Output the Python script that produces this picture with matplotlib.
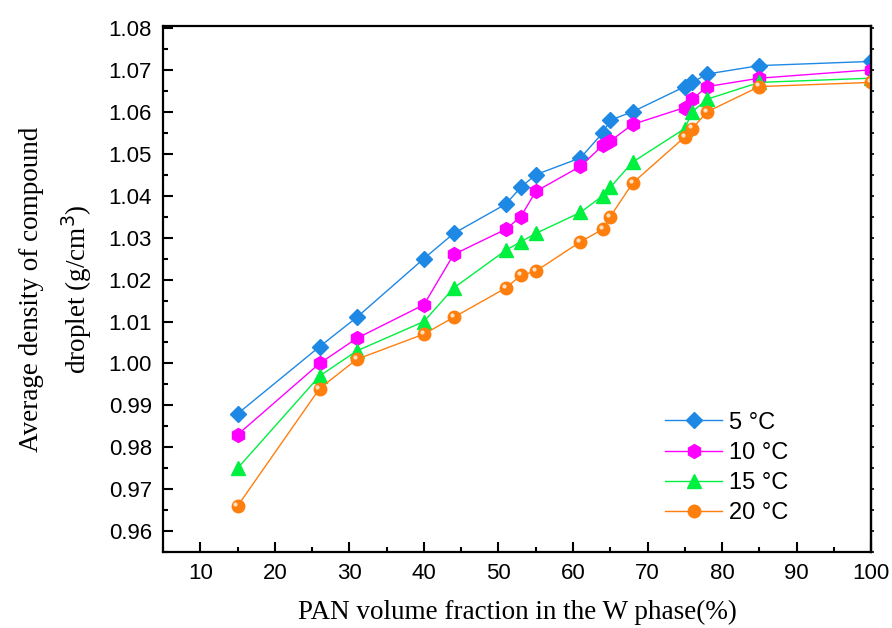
import numpy as np
import matplotlib
matplotlib.use('Agg')
from matplotlib import pyplot as plt
from matplotlib import transforms
from matplotlib.ticker import MultipleLocator, NullFormatter

# PAN volume fraction (%)
x = [15, 26, 31, 40, 44, 51, 53, 55, 61, 64, 65, 68, 75, 76, 78, 85, 100]

# average density (g/cm3) at each temperature
d5 = [0.988, 1.004, 1.011, 1.025, 1.031, 1.038, 1.042, 1.045, 1.049, 1.055, 1.058,
      1.060, 1.066, 1.067, 1.069, 1.071, 1.072]
d10 = [0.983, 1.000, 1.006, 1.014, 1.026, 1.032, 1.035, 1.041, 1.047, 1.052, 1.053,
       1.057, 1.061, 1.063, 1.066, 1.068, 1.070]
d15 = [0.975, 0.997, 1.003, 1.010, 1.018, 1.027, 1.029, 1.031, 1.036, 1.040, 1.042,
       1.048, 1.056, 1.060, 1.063, 1.067, 1.068]
d20 = [0.966, 0.994, 1.001, 1.007, 1.011, 1.018, 1.021, 1.022, 1.029, 1.032, 1.035,
       1.043, 1.054, 1.056, 1.060, 1.066, 1.067]

labels = ['5 °C', '10 °C', '15 °C', '20 °C']
xticks = [10, 20, 30, 40, 50, 60, 70, 80, 90, 100]

fig = plt.figure(figsize=(8.92, 6.28), dpi=100)
ax = fig.add_axes([0.1827, 0.1206, 0.7940, 0.8384])

ax.plot(x, d5, '-', color='#1E88E5', lw=1, marker='D', ms=8, label=labels[0])
ax.plot(x, d10, '-', color='#FF00FF', lw=1, marker='h', ms=10, label=labels[1])
ax.plot(x, d15, '-', color='#00F040', lw=1, marker='^', ms=10, label=labels[2])
ax.plot(x, d20, '-', color='#FF7F0E', lw=1, marker='o', ms=9, label=labels[3])
# small highlight on the orange balls (shifted up-left a bit)
shift = transforms.ScaledTranslation(-1.5 / 72, 1.5 / 72, fig.dpi_scale_trans)
ax.plot(x, d20, ' ', marker='o', ms=3, mfc='#FFE2C4', mec='none',
        transform=ax.transData + shift)

ax.set_xlim(5, 100)
ax.set_ylim(0.955, 1.0805)
ax.set_xticks(xticks)
ax.xaxis.set_minor_locator(MultipleLocator(5))
ax.yaxis.set_major_locator(MultipleLocator(0.01))
ax.yaxis.set_minor_locator(MultipleLocator(0.005))
ax.yaxis.set_major_formatter(plt.FuncFormatter(lambda v, p: '%.2f' % v))

for s in ax.spines.values():
    s.set_linewidth(1.6)
ax.tick_params(which='major', direction='in', length=7, width=1.5,
               labelsize=16, pad=8)
ax.tick_params(which='minor', direction='in', length=3.5, width=1.5)
for lab in ax.get_xticklabels() + ax.get_yticklabels():
    lab.set_family('Liberation Sans')

# little outward ticks on the right spine
sec = ax.secondary_yaxis('right')
sec.yaxis.set_major_locator(MultipleLocator(0.005))
sec.yaxis.set_major_formatter(NullFormatter())
sec.tick_params(direction='out', length=2.5, width=1.2)
sec.spines['right'].set_linewidth(1.6)

ax.set_xlabel('PAN volume fraction in the W phase(%)', family='Liberation Serif',
              fontsize=19.5, labelpad=11)
ax.set_ylabel('Average density of compound\ndroplet (g/cm$^3$)', family='Liberation Serif',
              fontsize=19.5, labelpad=10, linespacing=1.6)

leg = ax.legend(loc='center', bbox_to_anchor=(0.796, 0.16), frameon=False,
                handlelength=2.4, handletextpad=0.3, labelspacing=0.35,
                prop={'family': 'Liberation Sans', 'size': 17})

plt.savefig('out.png', dpi=100)
